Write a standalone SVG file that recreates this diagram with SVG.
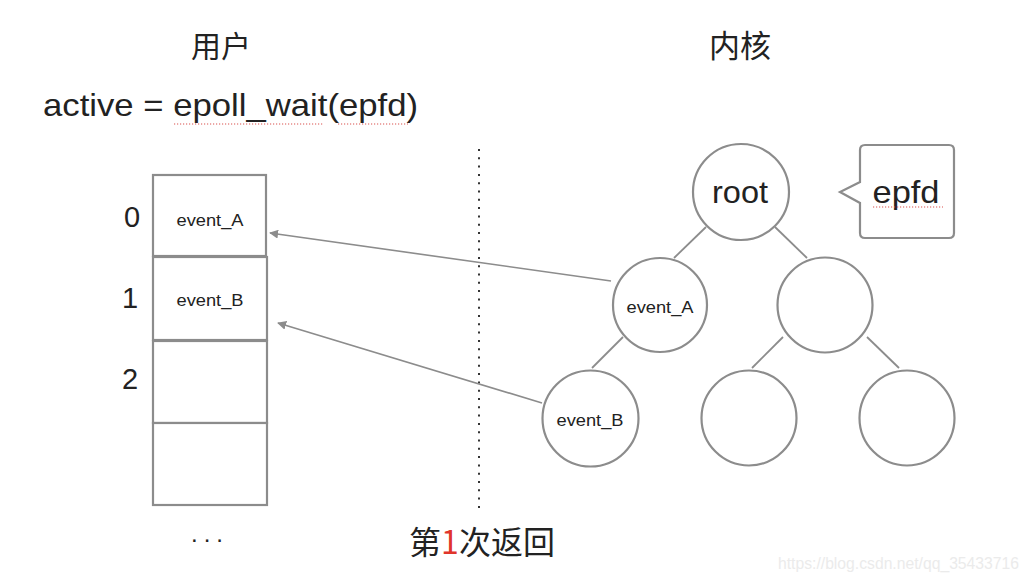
<svg xmlns="http://www.w3.org/2000/svg" width="1030" height="582" viewBox="0 0 1030 582">
<style>
.bg{fill:#ffffff}
.cell{fill:#ffffff;stroke:#8c8c8c;stroke-width:2.2}
.node{fill:#ffffff;stroke:#8c8c8c;stroke-width:2.2}
.edge{stroke:#8c8c8c;stroke-width:1.8;fill:none}
.arrow{stroke:#8c8c8c;stroke-width:1.6;fill:none}
.t{font-family:"Liberation Sans","Noto Sans CJK SC",sans-serif;fill:#222222}
.cjk{font-family:"Noto Sans CJK SC","Liberation Sans",sans-serif;fill:#222222}
.spell{stroke:#d9534f;stroke-width:1.2;stroke-dasharray:1.2 1.8}
</style>
<defs>
<marker id="ah" viewBox="0 0 10 10" refX="9" refY="5" markerWidth="9" markerHeight="9" markerUnits="userSpaceOnUse" orient="auto">
<path d="M0,0 L10,5 L0,10 Z" fill="#8c8c8c"/>
</marker>
</defs>
<rect class="bg" x="0" y="0" width="1030" height="582"/>

<g id="titles">
<text class="cjk" x="221" y="57" font-size="30" text-anchor="middle">用户</text>
<text class="cjk" x="740" y="57" font-size="31" text-anchor="middle">内核</text>
<text class="t" x="43" y="116" font-size="32" textLength="375" lengthAdjust="spacingAndGlyphs">active = epoll_wait(epfd)</text>
<line class="spell" x1="174" y1="124" x2="323" y2="124"/>
<line class="spell" x1="338" y1="124" x2="408" y2="124"/>
</g>

<g id="divider">
<line x1="479" y1="149" x2="479" y2="510" stroke="#333333" stroke-width="2" stroke-dasharray="2 6.3"/>
</g>

<g id="array">
<rect class="cell" x="153" y="175" width="113" height="81"/>
<rect class="cell" x="153" y="257" width="114" height="83"/>
<rect class="cell" x="153" y="341" width="114" height="82"/>
<rect class="cell" x="153" y="423" width="114" height="82"/>
<text class="t" x="210" y="226" font-size="17" text-anchor="middle" textLength="67" lengthAdjust="spacingAndGlyphs">event_A</text>
<text class="t" x="210" y="306" font-size="17" text-anchor="middle" textLength="67" lengthAdjust="spacingAndGlyphs">event_B</text>
<text class="t" x="132" y="227" font-size="29" text-anchor="middle">0</text>
<text class="t" x="130" y="308" font-size="29" text-anchor="middle">1</text>
<text class="t" x="130" y="389" font-size="29" text-anchor="middle">2</text>
<text class="t" x="210" y="542" font-size="24" text-anchor="middle" letter-spacing="6">...</text>
</g>

<g id="connectors">
<line class="edge" x1="706" y1="227" x2="674" y2="258"/>
<line class="edge" x1="775" y1="227" x2="807" y2="258"/>
<line class="edge" x1="623" y1="337" x2="592" y2="368"/>
<line class="edge" x1="783" y1="337" x2="752" y2="368"/>
<line class="edge" x1="867" y1="337" x2="899" y2="368"/>
<line class="arrow" x1="611" y1="281" x2="270" y2="233" marker-end="url(#ah)"/>
<line class="arrow" x1="542" y1="403" x2="278" y2="323" marker-end="url(#ah)"/>
</g>

<g id="root">
<circle class="node" cx="741" cy="192" r="48"/>
<text class="t" x="740" y="203" font-size="32" text-anchor="middle" textLength="56" lengthAdjust="spacingAndGlyphs">root</text>
</g>
<g id="node-event-a">
<circle class="node" cx="660" cy="305" r="47"/>
<text class="t" x="660" y="313" font-size="17" text-anchor="middle" textLength="67" lengthAdjust="spacingAndGlyphs">event_A</text>
</g>
<g id="node-right">
<circle class="node" cx="825" cy="305" r="47.5"/>
</g>
<g id="node-event-b">
<circle class="node" cx="590.5" cy="418.5" r="48"/>
<text class="t" x="590" y="426" font-size="17" text-anchor="middle" textLength="67" lengthAdjust="spacingAndGlyphs">event_B</text>
</g>
<g id="node-bottom-mid">
<circle class="node" cx="749" cy="418" r="47.5"/>
</g>
<g id="node-bottom-right">
<circle class="node" cx="907" cy="418" r="47.5"/>
</g>

<g id="epfd-callout">
<path class="node" d="M865,145 H949 Q954,145 954,150 V233 Q954,238 949,238 H865 Q860,238 860,233 V203 L840,192 L860,182 V150 Q860,145 865,145 Z"/>
<text class="t" x="906" y="203" font-size="32" text-anchor="middle" textLength="67" lengthAdjust="spacingAndGlyphs">epfd</text>
<line class="spell" x1="873" y1="207" x2="943" y2="207"/>
</g>

<g id="caption">
<text class="cjk" x="482" y="554" font-size="32" text-anchor="middle">第<tspan fill="#e0352b">1</tspan>次返回</text>
</g>

<g id="watermark">
<text x="778" y="569" font-size="16" font-family="Liberation Sans, sans-serif" fill="#ebebeb" textLength="241" lengthAdjust="spacingAndGlyphs">https://blog.csdn.net/qq_35433716</text>
</g>
</svg>
